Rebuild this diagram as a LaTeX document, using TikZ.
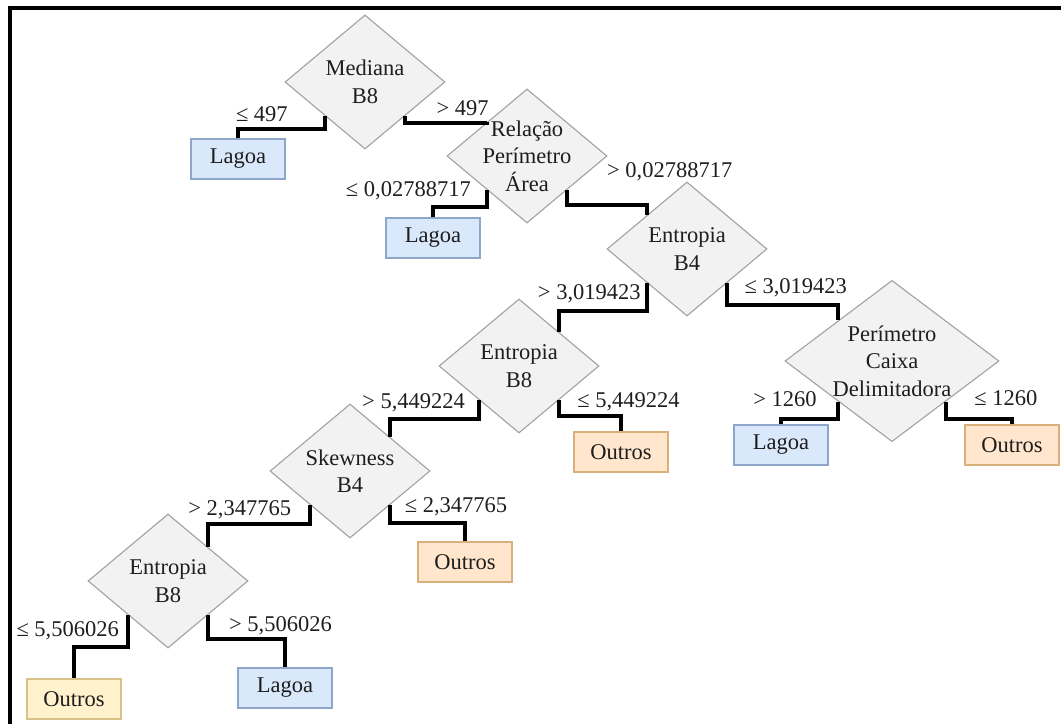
\documentclass[tikz,border=0pt]{standalone}
\usepackage{fontspec}
\setmainfont{Liberation Serif}
\newfontfamily\treefont{Liberation Serif}
\usetikzlibrary{shapes.geometric}
\definecolor{splitfill}{HTML}{F2F2F2}
\definecolor{splitdraw}{HTML}{A3A3A3}
\definecolor{lagoafill}{HTML}{DAE8FC}
\definecolor{lagoadraw}{HTML}{8EA6C8}
\definecolor{outrosfill}{HTML}{FFE6CC}
\definecolor{outrosdraw}{HTML}{D8B07C}
\definecolor{outrosyfill}{HTML}{FFF2CC}
\definecolor{outrosydraw}{HTML}{D8C288}
\definecolor{txt}{HTML}{1E1E1E}
\tikzstyle{split} = [diamond, draw=splitdraw, fill=splitfill, line width=0.8pt, inner sep=-5pt, minimum width=4cm, minimum height=3.35cm, align=center, text=txt]
\tikzstyle{leaf} = [rectangle, line width=0.8pt, minimum width=2.35cm, minimum height=1cm, text=txt]
\tikzstyle{lagoa} = [leaf, draw=lagoadraw, fill=lagoafill]
\tikzstyle{outros} = [leaf, draw=outrosdraw, fill=outrosfill]
\tikzstyle{branch} = [draw, line width=2.6pt]
\tikzstyle{lbl} = [text=txt, inner sep=3pt, yshift=1pt]

\begin{document}
\begin{tikzpicture}[x=0.025cm, y=-0.025cm, every node/.style={font=\treefont\fontsize{16}{19.5}\selectfont}]
    \useasboundingbox (0,0) rectangle (1061,724);
    \draw[line width=2.4pt] (10,724) -- (10,8) -- (1061,8);

    % decision nodes
    \node[split] (med) at (365,82) {Mediana\\B8};
    \node[split] (rel) at (527,156) {Relação\\Perímetro\\Área};
    \node[split] (ent4) at (687,249) {Entropia\\B4};
    \node[split] (ent8a) at (519,366) {Entropia\\B8};
    \node[split, minimum width=5.35cm, minimum height=3.55cm] (per) at (892,361) {Perímetro\\Caixa\\Delimitadora};
    \node[split] (skw) at (350,471) {Skewness\\B4};
    \node[split] (ent8b) at (168,581) {Entropia\\B8};

    % leaves
    \node[lagoa] (lag1) at (238,159) {Lagoa};
    \node[lagoa] (lag2) at (433,238) {Lagoa};
    \node[lagoa] (lag3) at (781,445) {Lagoa};
    \node[lagoa] (lag4) at (285,688) {Lagoa};
    \node[outros] (out1) at (621,452) {Outros};
    \node[outros] (out2) at (465,562) {Outros};
    \node[outros] (out3) at (1012,445) {Outros};
    \node[outros, draw=outrosydraw, fill=outrosyfill] (out4) at (74,699) {Outros};

    \draw[branch] (med.south west) -- ++(0,13.5) node[lbl, above left, xshift=-22pt] {≤ 497} -| (lag1.north);
    \draw[branch] (med.south east) -- ++(0,7) node[lbl, above right, xshift=18pt] {> 497} -| (rel.north west);
    \draw[branch] (rel.south west) -- ++(0,17.5) node[lbl, above left, xshift=-7pt] {≤ 0,02788717} -| (lag2.north);
    \draw[branch] (rel.south east) -- ++(0,15.5) node[lbl, above right, xshift=24pt, yshift=12pt] {> 0,02788717} -| (ent4.north west);
    \draw[branch] (ent4.south west) -- ++(0,28) node[lbl, above left] {> 3,019423} -| (ent8a.north east);
    \draw[branch] (ent4.south east) -- ++(0,22) node[lbl, above right, xshift=8pt] {≤ 3,019423} -| (per.north west);
    \draw[branch] (ent8a.south west) -- ++(0,19.5) node[lbl, above left, xshift=-5.5pt] {> 5,449224} -| (skw.north east);
    \draw[branch] (ent8a.south east) -- ++(0,16.5) node[lbl, above right, xshift=8.5pt, yshift=-1.5pt] {≤ 5,449224} -| (out1.north);
    \draw[branch] (per.south west) -- ++(0,17.5) node[lbl, above left, xshift=-11pt, yshift=3.5pt] {> 1260} -| (lag3.north);
    \draw[branch] (per.south east) -- ++(0,17.5) node[lbl, above right, xshift=16pt, yshift=4pt] {≤ 1260} -| (out3.north);
    \draw[branch] (skw.south west) -- ++(0,19.5) node[lbl, above left, xshift=-9pt, yshift=-1.5pt] {> 2,347765} -| (ent8b.north east);
    \draw[branch] (skw.south east) -- ++(0,18.5) node[lbl, above right, xshift=6pt] {≤ 2,347765} -| (out2.north);
    \draw[branch] (ent8b.south west) -- ++(0,32.5) node[lbl, above left, xshift=-2pt] {≤ 5,506026} -| (out4.north);
    \draw[branch] (ent8b.south east) -- ++(0,24.5) node[lbl, above right, xshift=10.5pt, yshift=-2pt] {> 5,506026} -| (lag4.north);
\end{tikzpicture}
\end{document}
